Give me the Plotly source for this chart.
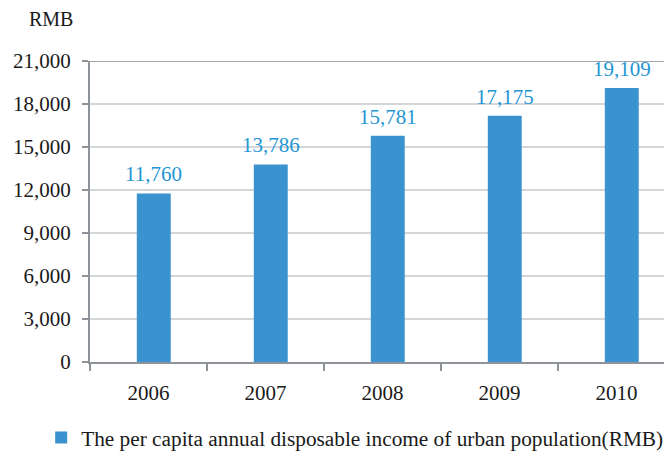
import plotly.graph_objects as go

years = ["2006", "2007", "2008", "2009", "2010"]
income = [11760, 13786, 15781, 17175, 19109]
labels = ["11,760", "13,786", "15,781", "17,175", "19,109"]
y_ticks = [0, 3000, 6000, 9000, 12000, 15000, 18000, 21000]
y_ticklabels = ["0", "3,000", "6,000", "9,000", "12,000", "15,000", "18,000", "21,000"]

FONT = "Times New Roman, Liberation Serif, serif"
BAR = "#3a93cf"
LBL = "#1f96d3"
AX = "#8e9299"
TXT = "#1a1a1a"

fig = go.Figure()
fig.add_trace(go.Bar(
    x=years, y=income,
    marker=dict(color=BAR, line=dict(width=0)),
    width=0.29, offset=-0.145 + 0.045,
    hovertext=labels,
    name="The per capita annual disposable income of urban population(RMB)",
))

for i, (val, lab) in enumerate(zip(income, labels)):
    fig.add_annotation(x=i, y=val, xref="x", yref="y", text=lab, showarrow=False,
                       xanchor="center", yanchor="bottom", xshift=5, yshift=5,
                       font=dict(family=FONT, size=21, color=LBL))

fig.update_layout(
    width=664, height=455,
    margin=dict(l=90, r=0, t=61, b=93),
    paper_bgcolor="white", plot_bgcolor="white",
    font=dict(family=FONT, size=21, color=TXT),
    showlegend=True,
    legend=dict(orientation="h", x=0.062, xanchor="left", xref="container",
                y=0.038, yanchor="middle", yref="container",
                font=dict(family=FONT, size=21.3, color=TXT),
                itemwidth=30),
    xaxis=dict(
        type="category", range=[-0.5, 4.406], tickson="boundaries",
        showline=True, linecolor=AX, linewidth=2,
        ticks="outside", ticklen=7, tickcolor=AX, tickwidth=2,
        ticklabelstandoff=11,
        showgrid=False, tickfont=dict(family=FONT, size=21, color=TXT),
    ),
    yaxis=dict(
        range=[0, 21000], tickvals=y_ticks, ticktext=y_ticklabels,
        showline=True, linecolor=AX, linewidth=2,
        ticks="outside", ticklen=6, tickcolor=AX, tickwidth=2,
        ticklabelstandoff=7,
        showgrid=True, gridcolor="#d3d6d9", gridwidth=1.5,
        zeroline=False,
        tickfont=dict(family=FONT, size=21, color=TXT),
    ),
)

fig.add_shape(type="line", xref="paper", yref="y", x0=0, x1=1, y0=21000, y1=21000,
              line=dict(color="#a3a7ab", width=2), layer="above")

fig.add_annotation(text="RMB", xref="paper", yref="paper", x=-0.11, y=1.14,
                   xanchor="left", yanchor="middle", showarrow=False,
                   font=dict(family=FONT, size=20, color=TXT))

fig.write_html("out.html")
